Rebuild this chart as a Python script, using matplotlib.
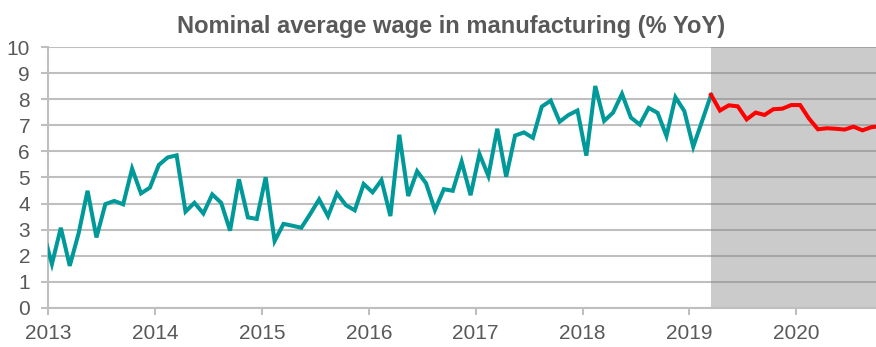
import matplotlib
matplotlib.use('Agg')
import matplotlib.pyplot as plt
import numpy as np

plt.rcParams['font.family'] = ['Liberation Sans', 'DejaVu Sans']

# monthly % YoY, Dec 2012 .. Mar 2019 (actual)
actual_start = (2012, 12)
actual = [2.94,
          1.68, 3.07, 1.61, 2.86, 4.49, 2.70, 3.98, 4.10, 3.97, 5.34, 4.39, 4.61,   # 2013
          5.48, 5.77, 5.85, 3.69, 4.03, 3.62, 4.35, 4.03, 2.96, 4.93, 3.47, 3.41,   # 2014
          5.01, 2.56, 3.22, 3.15, 3.07, 3.60, 4.16, 3.52, 4.39, 3.94, 3.74, 4.75,   # 2015
          4.43, 4.90, 3.52, 6.64, 4.29, 5.24, 4.78, 3.75, 4.55, 4.49, 5.61, 4.32,   # 2016
          5.90, 5.06, 6.87, 5.03, 6.61, 6.73, 6.52, 7.72, 7.95, 7.14, 7.40, 7.57,   # 2017
          5.84, 8.51, 7.17, 7.49, 8.21, 7.30, 7.03, 7.67, 7.48, 6.59, 8.08, 7.55,   # 2018
          6.18, 7.17, 8.17]                                                         # 2019

# forecast, Mar 2019 .. Oct 2020
forecast_start = (2019, 3)
forecast = [8.17, 7.57, 7.77, 7.73, 7.23, 7.49, 7.40, 7.62, 7.64, 7.78,
            7.78, 7.26, 6.85, 6.89, 6.87, 6.84, 6.95, 6.81, 6.93, 6.97]

years = list(range(2013, 2021))
title = 'Nominal average wage in manufacturing (% YoY)'


def month_pos(start, n):
    # points sit a bit after the start of each month
    y, m = start
    k = np.arange(n)
    return y + (m - 1 + k + 0.42) / 12.0


grey_txt = '#595959'
teal = '#009999'

fig = plt.figure(figsize=(8.76, 3.47), dpi=100)
ax = fig.add_axes([0.055, 0.113, 0.945, 0.751])

x_act = month_pos(actual_start, len(actual))
x_fc = month_pos(forecast_start, len(forecast))

ax.set_axisbelow(True)
ax.yaxis.grid(True, color='#bfbfbf', linewidth=1.5, zorder=0)
ax.axvspan(x_fc[0], 2030, color='#7f7f7f', alpha=0.4, lw=0, zorder=1)

ax.plot(x_act, actual, color=teal, lw=2.9, zorder=3, solid_joinstyle='miter')
ax.plot(x_fc, forecast, color='#ff0000', lw=2.9, zorder=3, solid_joinstyle='miter')

ax.set_xlim(2013, 2020.745)
ax.set_ylim(0, 10)
ax.set_yticks(range(0, 11))
ax.set_xticks(years)
ax.set_xticklabels([str(y) for y in years])

for s in ['top', 'right']:
    ax.spines[s].set_visible(False)
for s in ['left', 'bottom']:
    ax.spines[s].set_color('#bfbfbf')
    ax.spines[s].set_linewidth(1.5)

ax.tick_params(axis='both', colors='#bfbfbf', labelcolor=grey_txt,
               labelsize=15, length=5, width=1.5)
ax.tick_params(axis='y', pad=8)
ax.tick_params(axis='x', pad=7)

fig.text(0.515, 0.904, title, ha='center', va='baseline', fontsize=17,
         fontweight='bold', color=grey_txt)

fig.savefig('out.png', dpi=100)
